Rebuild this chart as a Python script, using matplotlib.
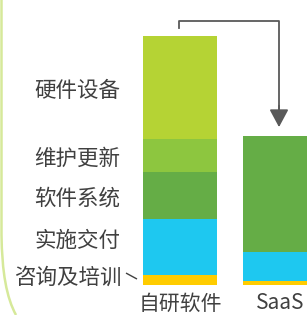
import matplotlib
matplotlib.use("Agg")
import matplotlib.pyplot as plt
from matplotlib.path import Path
from matplotlib.patches import PathPatch
import numpy as np

plt.rcParams["font.family"] = ["Noto Sans CJK SC", "DejaVu Sans"]

# data (share of cost, left bar total = 100)
categories = ["自研软件", "SaaS"]
segments = ["咨询及培训", "实施交付", "软件系统", "维护更新", "硬件设备"]
colors = ["#ffcc00", "#1ec8f0", "#65ad46", "#8dc63f", "#b5d334"]
self_built = [4.0, 22.5, 19.0, 13.0, 41.5]
saas = [1.7, 11.6, 46.5, 0.0, 0.0]

text_color = "#404040"
arrow_color = "#595959"

fig = plt.figure(figsize=(3.07, 3.15), dpi=100)
ax = fig.add_axes([0, 30 / 315, 1, 285 / 315])
ax.set_xlim(-1.8, 1.27)
ax.set_ylim(0, 285 / 2.49)
ax.axis("off")

# stacked bars
x = np.arange(len(categories))
bottoms = np.zeros(len(categories))
for i, seg in enumerate(segments):
    vals = np.array([self_built[i], saas[i]])
    ax.bar(x, vals, width=0.74, bottom=bottoms, color=colors[i], linewidth=0)
    bottoms += vals

# segment labels on the left of the first bar
cum = np.cumsum([0] + self_built)
centers = (cum[:-1] + cum[1:]) / 2
label_shift = [0.8, 2.6, -1.2, -1.2, -1.4]
for i, seg in enumerate(segments):
    xl = -0.6 if i > 0 else -0.58
    ax.text(xl, centers[i] + label_shift[i], seg, ha="right", va="center",
            fontsize=15.5, color=text_color)

# leader line for the thin bottom segment
ax.plot([-0.54, -0.43], [4.8, 2.4], color=text_color, lw=1.0,
        solid_capstyle="butt")

# category labels
for xi, cat in zip(x, categories):
    ax.text(xi, -7.4, cat, ha="center", va="center", fontsize=15,
            color=text_color)

# arrow from first bar to SaaS bar
top_y = sum(self_built) + 6.2
ax.plot([-0.01, -0.01, 0.99, 0.99], [sum(self_built) + 3.2, top_y, top_y, 70],
        color=arrow_color, lw=1.3, solid_joinstyle="round")
ax.annotate("", xy=(0.99, sum(saas) + 3.6), xytext=(0.99, 72),
            arrowprops=dict(arrowstyle="-|>,head_length=1.08,head_width=0.58",
                            color=arrow_color, lw=1.3, shrinkA=0, shrinkB=0))

# light green decoration curve on the left edge
W, H = 307, 315
pts = [(1.5, 0), (1.5, 235), (2.0, 290), (16, 315)]
verts = [(px / W, 1 - py / H) for px, py in pts]
path = Path(verts, [Path.MOVETO, Path.LINETO, Path.CURVE3, Path.CURVE3])
fig.add_artist(PathPatch(path, transform=fig.transFigure, fill=False,
                         edgecolor="#d6e99a", lw=1.8))

fig.savefig("out.png", dpi=100)
